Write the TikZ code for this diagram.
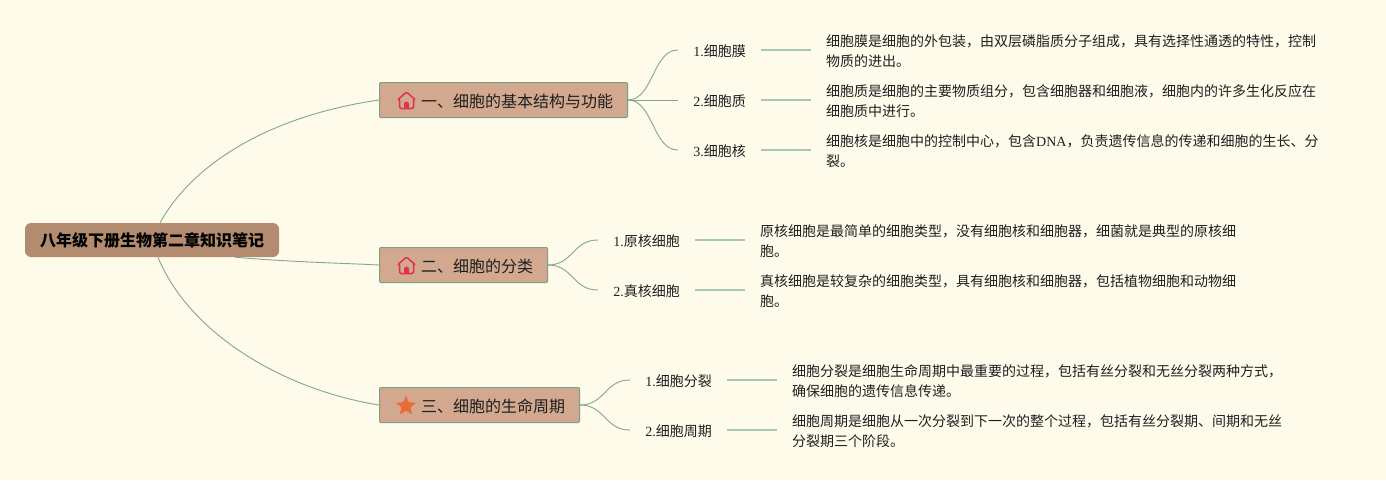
\documentclass[tikz,border=0pt]{standalone}
\usepackage{fontspec}
\newfontfamily\cjk{Noto Sans CJK SC}
\newfontfamily\lat{Liberation Serif}
\usetikzlibrary{calc,positioning,shapes.geometric}
\definecolor{paper}{HTML}{FFFBEB}
\definecolor{rootfill}{HTML}{B38C70}
\definecolor{mainfill}{HTML}{D2A98F}
\definecolor{mainedge}{HTML}{7C9F85}
\definecolor{wire}{HTML}{7FA88F}
\definecolor{wirelight}{HTML}{A6C7B2}
\definecolor{ink}{HTML}{1F1F1F}
\definecolor{roof}{HTML}{E0314F}
\definecolor{starfill}{HTML}{E86C35}
\begin{document}
\begin{tikzpicture}[x=1pt, y=-1pt,
  rootbox/.style={fill=rootfill, rounded corners=6pt, text=black, inner sep=0pt, minimum width=254pt, minimum height=34pt, font=\cjk\bfseries\fontsize{16}{20}\selectfont},
  mainbox/.style={draw=mainedge, line width=1pt, fill=mainfill, text=ink, inner sep=0pt, minimum height=35pt, rounded corners=1pt, text height=15pt, text depth=1pt, font=\cjk\fontsize{16}{20}\selectfont},
  leaf/.style={inner sep=0pt, text=ink, minimum height=20pt, text height=14pt, text depth=1pt, font=\cjk\fontsize{14}{20}\selectfont},
  note/.style={inner xsep=15pt, inner ysep=0pt, text=ink, align=left, anchor=west, font=\cjk\fontsize{14}{20}\selectfont},
  arr/.style={draw=wire, line width=0.9pt},
  lnk/.style={draw=wirelight, line width=1.3pt}]
\fill[paper] (0,0) rectangle (1386,480);
\node[rootbox] (root) at (152,240) {八年级下册生物第二章知识笔记};
\node[mainbox, minimum width=248pt, text width=219pt, align=right] (one) at (503.5,100) {一、细胞的基本结构与功能};
\node[mainbox, minimum width=168pt, text width=139pt, align=right] (two) at (463.5,265) {二、细胞的分类};
\node[mainbox, minimum width=200pt, text width=171pt, align=right] (three) at (479.5,405) {三、细胞的生命周期};
\node[leaf, minimum width=83pt] (a1) at (719.5,50) {{\lat 1.}细胞膜};
\node[leaf, minimum width=83pt] (a2) at (719.5,100) {{\lat 2.}细胞质};
\node[leaf, minimum width=83pt] (a3) at (719.5,150) {{\lat 3.}细胞核};
\node[leaf, minimum width=97pt] (b1) at (646.5,240) {{\lat 1.}原核细胞};
\node[leaf, minimum width=97pt] (b2) at (646.5,290) {{\lat 2.}真核细胞};
\node[leaf, minimum width=97pt] (c1) at (678.5,380) {{\lat 1.}细胞分裂};
\node[leaf, minimum width=97pt] (c2) at (678.5,430) {{\lat 2.}细胞周期};
\node[note] (na1) at (811,51) {细胞膜是细胞的外包装，由双层磷脂质分子组成，具有选择性通透的特性，控制\\物质的进出。};
\node[note] (na2) at (811,101) {细胞质是细胞的主要物质组分，包含细胞器和细胞液，细胞内的许多生化反应在\\细胞质中进行。};
\node[note] (na3) at (811,151) {细胞核是细胞中的控制中心，包含{\lat DNA}，负责遗传信息的传递和细胞的生长、分\\裂。};
\node[note] (nb1) at (745,241) {原核细胞是最简单的细胞类型，没有细胞核和细胞器，细菌就是典型的原核细\\胞。};
\node[note] (nb2) at (745,291) {真核细胞是较复杂的细胞类型，具有细胞核和细胞器，包括植物细胞和动物细\\胞。};
\node[note] (nc1) at (777,381) {细胞分裂是细胞生命周期中最重要的过程，包括有丝分裂和无丝分裂两种方式，\\确保细胞的遗传信息传递。};
\node[note] (nc2) at (777,431) {细胞周期是细胞从一次分裂到下一次的整个过程，包括有丝分裂期、间期和无丝\\分裂期三个阶段。};
\node[star, star points=5, star point ratio=2.2, fill=starfill, inner sep=0pt, minimum size=21pt] (icon3) at (406,406) {};
\coordinate (icon1) at (406.5,100.5);
\coordinate (icon2) at (406.5,265.5);
\foreach \c in {icon1, icon2}{
  \draw[roof, line width=1.5pt, line join=round, rounded corners=1.5pt, shift={(\c)}] (-7,-2) -- (-8.5,-1) -- (0,-8.5) -- (8.5,-1) -- (7,-2) -- (7,8) -- (-7,8) -- cycle;
  \fill[roof, shift={(\c)}] (-2.5,8) -- (-2.5,3.5) arc[start angle=180, end angle=0, x radius=2.5, y radius=-2.5] -- (2.5,8) -- cycle;
}
\draw[arr] ([xshift=8pt]root.north) .. controls (195,160) and (275,115) .. (one.west);
\draw[arr] ([xshift=83pt]root.south) .. controls (290,262) and (340,263) .. (two.west);
\draw[arr] ([xshift=6pt]root.south) .. controls (190,335) and (285,390) .. (three.west);
\foreach \p/\q in {one/a1, one/a2, one/a3, two/b1, two/b2, three/c1, three/c2}
  \draw[arr] (\p.east) .. controls ($(\p.east)+(25,0)$) and ($(\q.west)+(-25,0)$) .. (\q.west);
\foreach \p/\q in {a1/na1, a2/na2, a3/na3, b1/nb1, b2/nb2, c1/nc1, c2/nc2}
  \draw[lnk] (\p.east) -- (\p.east -| \q.west);
\end{tikzpicture}
\end{document}
